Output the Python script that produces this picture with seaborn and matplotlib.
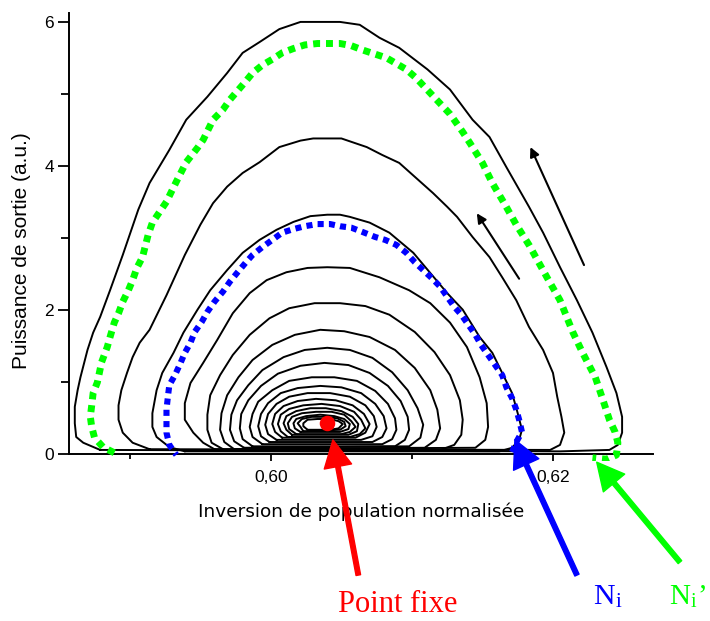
import matplotlib
matplotlib.use("Agg")
import matplotlib.pyplot as plt
import seaborn as sns

# trajectoires (inversion normalisée, puissance de sortie)
o1_x = [0.5879, 0.5867, 0.5862, 0.5861, 0.5861, 0.5863, 0.5865, 0.5870, 0.5874, 0.5879,
        0.5886, 0.5895, 0.5906, 0.5914, 0.5928, 0.5940, 0.5955, 0.5969, 0.5980, 0.5992,
        0.6006, 0.6021, 0.6049, 0.6063, 0.6077, 0.6091, 0.6111, 0.6127, 0.6143, 0.6155,
        0.6167, 0.6183, 0.6193, 0.6205, 0.6217, 0.6228, 0.6238, 0.6245, 0.6249, 0.6249,
        0.6246, 0.6240, 0.6205, 0.5879]
o1_y = [0.05, 0.15, 0.23, 0.42, 0.65, 0.88, 1.06, 1.44, 1.68, 1.90,
        2.27, 2.76, 3.39, 3.76, 4.22, 4.64, 4.96, 5.29, 5.57, 5.72,
        5.90, 6.00, 6.00, 5.96, 5.78, 5.64, 5.34, 5.06, 4.64, 4.40,
        3.98, 3.43, 3.07, 2.59, 2.13, 1.68, 1.20, 0.84, 0.51, 0.29,
        0.12, 0.05, 0.03, 0.05]

o3_x = [0.5914, 0.5902, 0.5895, 0.5892, 0.5892, 0.5894, 0.5898, 0.5902, 0.5907, 0.5914,
        0.5926, 0.5939, 0.5950, 0.5959, 0.5969, 0.5980, 0.5992, 0.6006, 0.6021, 0.6030,
        0.6050, 0.6068, 0.6079, 0.6091, 0.6103, 0.6115, 0.6125, 0.6132, 0.6143, 0.6155,
        0.6164, 0.6174, 0.6183, 0.6193, 0.6200, 0.6203, 0.6206, 0.6208, 0.6205, 0.6198,
        0.5914]
o3_y = [0.06, 0.15, 0.29, 0.47, 0.67, 0.88, 1.12, 1.34, 1.54, 1.72,
        2.20, 2.76, 3.18, 3.48, 3.71, 3.90, 4.05, 4.26, 4.35, 4.38,
        4.38, 4.26, 4.15, 4.04, 3.83, 3.62, 3.43, 3.29, 3.01, 2.73,
        2.45, 2.13, 1.76, 1.44, 1.12, 0.79, 0.51, 0.29, 0.12, 0.05,
        0.06]

o4_x = [0.5939, 0.5928, 0.5919, 0.5916, 0.5916, 0.5919, 0.5923, 0.5931, 0.5938, 0.5948,
        0.5957, 0.5969, 0.5980, 0.5992, 0.6004, 0.6016, 0.6028, 0.6040, 0.6049, 0.6056,
        0.6070, 0.6084, 0.6101, 0.6113, 0.6125, 0.6136, 0.6148, 0.6157, 0.6164, 0.6171,
        0.6175, 0.6178, 0.6176, 0.6171, 0.6162, 0.5939]
o4_y = [0.03, 0.09, 0.23, 0.37, 0.56, 0.88, 1.12, 1.40, 1.68, 2.00,
        2.27, 2.55, 2.79, 2.97, 3.11, 3.22, 3.30, 3.32, 3.32, 3.29,
        3.21, 3.07, 2.79, 2.51, 2.23, 2.00, 1.62, 1.40, 1.12, 0.84,
        0.56, 0.33, 0.19, 0.08, 0.03, 0.03]

o5_x = [0.5960, 0.5952, 0.5945, 0.5939, 0.5939, 0.5943, 0.5952, 0.5962, 0.5973, 0.5985,
        0.5997, 0.6011, 0.6026, 0.6040, 0.6056, 0.6077, 0.6098, 0.6113, 0.6127, 0.6139,
        0.6148, 0.6153, 0.6154, 0.6152, 0.6145, 0.5960]
o5_y = [0.06, 0.15, 0.29, 0.47, 0.70, 0.98, 1.26, 1.58, 1.95, 2.23,
        2.41, 2.52, 2.58, 2.59, 2.58, 2.45, 2.27, 2.09, 1.82, 1.48,
        1.06, 0.70, 0.37, 0.19, 0.08, 0.06]

o6_x = [0.5967, 0.5958, 0.5955, 0.5955, 0.5957, 0.5964, 0.5973, 0.5985, 0.5999, 0.6013,
        0.6031, 0.6049, 0.6067, 0.6084, 0.6102, 0.6116, 0.6127, 0.6134, 0.6136, 0.6135,
        0.6130, 0.6120, 0.5967]
o6_y = [0.05, 0.15, 0.33, 0.54, 0.81, 1.09, 1.37, 1.65, 1.88, 2.02,
        2.09, 2.09, 2.05, 1.93, 1.69, 1.41, 1.09, 0.74, 0.47, 0.26,
        0.12, 0.05, 0.05]

o7_x = [0.5974, 0.5967, 0.5964, 0.5965, 0.5969, 0.5977, 0.5987, 0.6001, 0.6017, 0.6035,
        0.6052, 0.6070, 0.6088, 0.6102, 0.6113, 0.6118, 0.6120, 0.6117, 0.6109, 0.5974]
o7_y = [0.06, 0.16, 0.33, 0.56, 0.81, 1.06, 1.30, 1.51, 1.65, 1.72,
        1.70, 1.62, 1.44, 1.19, 0.88, 0.61, 0.35, 0.19, 0.08, 0.06]

o8_x = [0.5981, 0.5974, 0.5971, 0.5972, 0.5976, 0.5984, 0.5994, 0.6009, 0.6024, 0.6040,
        0.6056, 0.6072, 0.6086, 0.6097, 0.6104, 0.6108, 0.6106, 0.6098, 0.5981]
o8_y = [0.08, 0.17, 0.33, 0.54, 0.74, 0.95, 1.16, 1.34, 1.44, 1.47,
        1.44, 1.33, 1.13, 0.88, 0.63, 0.40, 0.22, 0.10, 0.08]

o9_x = [0.5987, 0.5980, 0.5978, 0.5979, 0.5984, 0.5993, 0.6005, 0.6021, 0.6038, 0.6055,
        0.6070, 0.6083, 0.6092, 0.6097, 0.6098, 0.6095, 0.6088, 0.5987]
o9_y = [0.10, 0.20, 0.35, 0.55, 0.74, 0.94, 1.11, 1.22, 1.26, 1.23,
        1.12, 0.94, 0.73, 0.51, 0.33, 0.19, 0.10, 0.10]

o10_x = [0.5994, 0.5987, 0.5985, 0.5987, 0.5991, 0.6001, 0.6013, 0.6029, 0.6045, 0.6061,
         0.6074, 0.6083, 0.6088, 0.6089, 0.6086, 0.6079, 0.5994]
o10_y = [0.13, 0.23, 0.37, 0.55, 0.72, 0.88, 1.01, 1.06, 1.06, 1.01,
         0.87, 0.69, 0.49, 0.33, 0.20, 0.13, 0.13]

o11_x = [0.5999, 0.5993, 0.5991, 0.5993, 0.5998, 0.6007, 0.6019, 0.6035, 0.6050, 0.6064,
         0.6074, 0.6080, 0.6082, 0.6079, 0.6072, 0.5999]
o11_y = [0.16, 0.24, 0.38, 0.55, 0.70, 0.84, 0.91, 0.94, 0.92, 0.84,
         0.69, 0.52, 0.35, 0.23, 0.16, 0.16]

o12_x = [0.6004, 0.5998, 0.5996, 0.5998, 0.6004, 0.6013, 0.6026, 0.6042, 0.6056, 0.6067,
         0.6073, 0.6075, 0.6072, 0.6064, 0.6004]
o12_y = [0.19, 0.27, 0.40, 0.55, 0.69, 0.79, 0.84, 0.84, 0.79, 0.67,
         0.52, 0.37, 0.24, 0.19, 0.19]

o13_x = [0.6008, 0.6003, 0.6001, 0.6003, 0.6009, 0.6019, 0.6032, 0.6046, 0.6058, 0.6066,
         0.6070, 0.6067, 0.6060, 0.6008]
o13_y = [0.22, 0.30, 0.41, 0.55, 0.66, 0.73, 0.76, 0.74, 0.67, 0.55,
         0.41, 0.29, 0.22, 0.22]

o14_x = [0.6012, 0.6007, 0.6005, 0.6007, 0.6013, 0.6023, 0.6036, 0.6049, 0.6059, 0.6064,
         0.6067, 0.6063, 0.6056, 0.6012]
o14_y = [0.23, 0.31, 0.41, 0.54, 0.62, 0.67, 0.69, 0.66, 0.58, 0.47,
         0.35, 0.27, 0.23, 0.23]

o15_x = [0.6015, 0.6011, 0.6009, 0.6011, 0.6018, 0.6028, 0.6039, 0.6050, 0.6058, 0.6062,
         0.6061, 0.6055, 0.6015]
o15_y = [0.26, 0.33, 0.42, 0.52, 0.59, 0.63, 0.63, 0.59, 0.51, 0.41,
         0.31, 0.26, 0.26]

o16_x = [0.6018, 0.6013, 0.6012, 0.6015, 0.6022, 0.6032, 0.6043, 0.6052, 0.6057, 0.6060,
         0.6056, 0.6050, 0.6018]
o16_y = [0.27, 0.34, 0.42, 0.51, 0.56, 0.58, 0.58, 0.54, 0.45, 0.37,
         0.30, 0.27, 0.27]

o17_x = [0.6021, 0.6017, 0.6016, 0.6018, 0.6025, 0.6035, 0.6045, 0.6052, 0.6056, 0.6055,
         0.6049, 0.6021]
o17_y = [0.30, 0.35, 0.42, 0.48, 0.52, 0.54, 0.52, 0.48, 0.41, 0.34,
         0.30, 0.30]

o18_x = [0.6023, 0.6021, 0.6019, 0.6022, 0.6029, 0.6038, 0.6047, 0.6052, 0.6053, 0.6049, 0.6023]
o18_y = [0.31, 0.37, 0.42, 0.48, 0.51, 0.51, 0.49, 0.44, 0.38, 0.33, 0.31]

o19_x = [0.6026, 0.6023, 0.6023, 0.6026, 0.6033, 0.6042, 0.6048, 0.6051, 0.6048, 0.6042, 0.6026]
o19_y = [0.33, 0.38, 0.42, 0.47, 0.48, 0.48, 0.45, 0.41, 0.35, 0.33, 0.33]

# trajectoire N_i' (verte, pointillés)
ni2_x = [0.5889, 0.5881, 0.5875, 0.5873, 0.5872, 0.5873, 0.5874, 0.5877, 0.5880, 0.5884,
         0.5886, 0.5889, 0.5892, 0.5895, 0.5899, 0.5902, 0.5905, 0.5909, 0.5913, 0.5916,
         0.5926, 0.5933, 0.5940, 0.5948, 0.5952, 0.5959, 0.5966, 0.5971, 0.5982, 0.5987,
         0.5994, 0.6001, 0.6008, 0.6016, 0.6024, 0.6033, 0.6049, 0.6057, 0.6065, 0.6082,
         0.6096, 0.6103, 0.6115, 0.6127, 0.6136, 0.6141, 0.6150, 0.6157, 0.6166, 0.6174,
         0.6183, 0.6196, 0.6205, 0.6214, 0.6221, 0.6230, 0.6235, 0.6240, 0.6244, 0.6246,
         0.6245, 0.6238, 0.6228]
ni2_y = [0.01, 0.09, 0.22, 0.37, 0.51, 0.67, 0.84, 0.99, 1.27, 1.48,
         1.62, 1.82, 1.95, 2.11, 2.27, 2.41, 2.58, 2.73, 3.04, 3.21,
         3.50, 3.78, 4.05, 4.25, 4.36, 4.64, 4.78, 4.92, 5.17, 5.29,
         5.40, 5.48, 5.57, 5.63, 5.68, 5.70, 5.70, 5.67, 5.61, 5.50,
         5.34, 5.22, 4.97, 4.72, 4.47, 4.32, 4.04, 3.76, 3.46, 3.18,
         2.90, 2.44, 2.13, 1.69, 1.40, 1.06, 0.77, 0.47, 0.30, 0.15,
         -0.02, -0.08, -0.06]

# trajectoire N_i (bleue, pointillés)
ni_x = [0.6171, 0.6174, 0.6178, 0.6176, 0.6174, 0.6171, 0.6167, 0.6164, 0.6159, 0.6154,
        0.6149, 0.6145, 0.6140, 0.6135, 0.6130, 0.6125, 0.6120, 0.6114, 0.6108, 0.6102,
        0.6096, 0.6089, 0.6081, 0.6074, 0.6065, 0.6057, 0.6049, 0.6042, 0.6033, 0.6024,
        0.6016, 0.6008, 0.6001, 0.5994, 0.5987, 0.5982, 0.5976, 0.5971, 0.5966, 0.5960,
        0.5955, 0.5951, 0.5946, 0.5943, 0.5939, 0.5936, 0.5932, 0.5928, 0.5927, 0.5926,
        0.5926, 0.5926, 0.5928, 0.5933]
ni_y = [0.02, 0.16, 0.30, 0.47, 0.61, 0.77, 0.92, 1.09, 1.23, 1.37,
        1.51, 1.65, 1.79, 1.93, 2.04, 2.18, 2.32, 2.44, 2.55, 2.66,
        2.79, 2.90, 2.97, 3.01, 3.08, 3.14, 3.16, 3.19, 3.19, 3.16,
        3.12, 3.07, 2.97, 2.87, 2.76, 2.65, 2.51, 2.39, 2.25, 2.11,
        1.97, 1.83, 1.69, 1.54, 1.40, 1.26, 1.09, 0.95, 0.79, 0.61,
        0.44, 0.29, 0.12, -0.02]

# point fixe
pf_x = [0.6040]
pf_y = [0.42]

black_orbits = [(o1_x, o1_y), (o3_x, o3_y), (o4_x, o4_y), (o5_x, o5_y), (o6_x, o6_y),
                (o7_x, o7_y), (o8_x, o8_y), (o9_x, o9_y), (o10_x, o10_y), (o11_x, o11_y),
                (o12_x, o12_y), (o13_x, o13_y), (o14_x, o14_y), (o15_x, o15_y),
                (o16_x, o16_y), (o17_x, o17_y), (o18_x, o18_y), (o19_x, o19_y)]

sns.set_theme(style="ticks")
plt.rcParams['font.family'] = ['Liberation Sans', 'DejaVu Sans']
plt.rcParams['mathtext.fontset'] = 'stix'

fig = plt.figure(figsize=(7.1, 6.21), dpi=100)
ax = fig.add_axes([0.0976, 0.2581, 0.8225, 0.7205])

for xs, ys in black_orbits:
    sns.lineplot(x=xs, y=ys, sort=False, estimator=None, color='black', lw=1.4, ax=ax, zorder=2)

sns.lineplot(x=ni2_x, y=ni2_y, sort=False, estimator=None, color='#00ff00', lw=5,
             linestyle=(0, (1, 0.85)), ax=ax, zorder=3)
sns.lineplot(x=ni_x, y=ni_y, sort=False, estimator=None, color='#0000ff', lw=4.4,
             linestyle=(0, (1, 0.85)), ax=ax, zorder=3)
ax.scatter(pf_x, pf_y, s=125, color='#ff0000', zorder=5, linewidths=0)

# axes
ax.set_xlim(0.58571, 0.62711)
ax.set_ylim(-0.1, 6.12)
for s in ['top', 'right']:
    ax.spines[s].set_visible(False)
ax.spines['bottom'].set_position(('data', 0))
ax.spines['left'].set_bounds(0, 6.12)
ax.spines['left'].set_linewidth(1.4)
ax.spines['bottom'].set_linewidth(1.4)
ax.spines['left'].set_color('black')
ax.spines['bottom'].set_color('black')

ax.set_xticks([0.60, 0.62])
ax.set_xticklabels(['0,60', '0,62'])
ax.set_xticks([0.59, 0.61], minor=True)
ax.set_yticks([0, 2, 4, 6])
ax.set_yticklabels(['0', '2', '4', '6'])
ax.set_yticks([1, 3, 5], minor=True)
ax.tick_params(axis='both', which='both', direction='out', color='black', width=1.3,
               labelsize=12.5, labelcolor='black')
ax.tick_params(axis='y', which='major', length=8, pad=3)
ax.tick_params(axis='y', which='minor', length=5.5)
ax.tick_params(axis='x', which='major', length=5, pad=7)
ax.tick_params(axis='x', which='minor', length=3.4)
ax.grid(False)

ax.set_xlabel('Inversion de population normalisée', fontsize=13.3, family='DejaVu Sans',
              color='black')
ax.xaxis.set_label_coords(0.5, -0.126)
ax.xaxis.label.set_verticalalignment('baseline')
ax.set_ylabel('Puissance de sortie (a.u.)', fontsize=15, color='black')
ax.yaxis.set_label_coords(-0.081, 0.469)
ax.yaxis.label.set_verticalalignment('center')

# flèches de sens de parcours
ax.annotate('', xy=(0.6146, 3.34), xytext=(0.6176, 2.43),
            arrowprops=dict(arrowstyle='-|>', color='black', lw=1.5, mutation_scale=14,
                            shrinkA=0, shrinkB=0))
ax.annotate('', xy=(0.6184, 4.26), xytext=(0.6222, 2.62),
            arrowprops=dict(arrowstyle='-|>', color='black', lw=1.5, mutation_scale=14,
                            shrinkA=0, shrinkB=0))

# flèches d'annotation
for tip, tail, c in [((0.6044, 0.19), (0.6062, -1.69), '#ff0000'),
                     ((0.6173, 0.19), (0.6217, -1.69), '#0000ff'),
                     ((0.6231, -0.12), (0.6290, -1.51), '#00ff00')]:
    ax.annotate('', xy=tip, xytext=tail, annotation_clip=False, zorder=6,
                arrowprops=dict(facecolor=c, edgecolor=c, width=3.3, headwidth=20,
                                headlength=19.5, shrink=0, clip_on=False))

fig.text(0.476, 0.014, 'Point fixe', color='#ff0000', fontsize=22,
         family='Liberation Serif', va='baseline')
fig.text(0.835, 0.028, r'N$_\mathregular{i}$', color='#0000ff', fontsize=21.5,
         family='Liberation Serif', va='baseline')
fig.text(0.942, 0.028, r'N$_\mathregular{i}$’', color='#00ff00', fontsize=21,
         family='Liberation Serif', va='baseline')

fig.savefig('out.png', dpi=100)
